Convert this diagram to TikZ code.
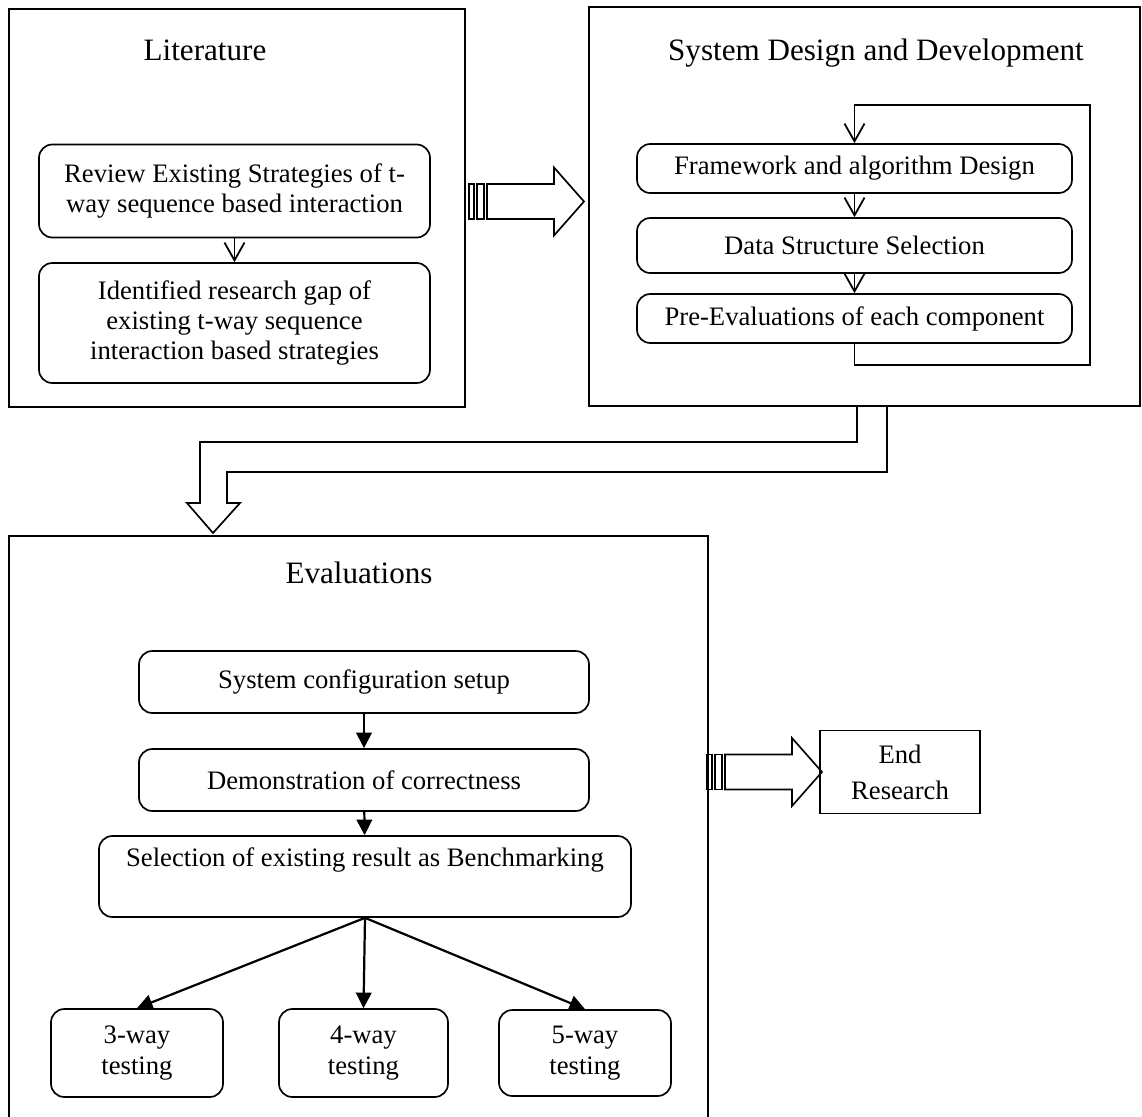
\documentclass[tikz,border=0pt]{standalone}
\usepackage{fontspec}
\setmainfont{Liberation Serif}
\usetikzlibrary{positioning, calc, arrows.meta}
\newdimen\pxu \pxu=0.45pt
\tikzset{
  boxsize/.style 2 args={minimum width=#1*\pxu, minimum height=#2*\pxu},
  panel/.style={draw, line width=0.9pt, inner sep=0pt},
  stepbox/.style={draw, line width=0.75pt, rounded corners=6pt, align=center, inner sep=0pt, font=\fontsize{12}{13.7}\selectfont},
  headline/.style={font=\fontsize{14}{16}\selectfont, anchor=base},
  openarrow/.style={-{Straight Barb[length=8pt,width=9pt]}, line width=0.8pt},
  fillarrow/.style={-{Triangle[length=7pt,width=7pt]}, line width=1pt},
  stripedarrow/.pic={
    \draw[line width=0.75pt] (0,-17.5) rectangle (5,17.5) (8,-17.5) rectangle (15,17.5);
    \draw[line width=0.75pt] (18,-17.5) -- (85,-17.5) -- (85,-34) -- (115,0) -- (85,34) -- (85,17.5) -- (18,17.5) -- cycle;
  }
}
\begin{document}
\begin{tikzpicture}[x=\pxu, y=-\pxu]
\useasboundingbox (0,0) rectangle (1142,1117);
\clip (0,0) rectangle (1142,1117);

% Literature
\node[panel, boxsize={456}{398}] (lit) at (237,208) {};
\node[headline] (littitle) at (205,60) {Literature};
\node[stepbox, boxsize={391}{93}] (review) at (234.5,191) {Review Existing Strategies of t-\\way sequence based interaction};
\node[stepbox, boxsize={391}{120}] (gap) at (234.5,323) {Identified research gap of\\existing t-way sequence\\interaction based strategies};
\draw[openarrow] (review) -- (gap);

% System design and development
\node[panel, boxsize={551}{399}] (sys) at (864.5,206.5) {};
\node[headline] (systitle) at (876,60) {System Design and Development};
\node[stepbox, boxsize={435}{49}] (frame) at (854.5,168.5) {Framework and algorithm Design};
\node[stepbox, boxsize={435}{55}] (data) at (854.5,245.5) {Data Structure Selection};
\node[stepbox, boxsize={435}{49}] (pre) at (854.5,318.5) {Pre-Evaluations of each component};
\coordinate (loopc) at (1090,105);
\draw[openarrow] (frame) -- (data);
\draw[openarrow] (data) -- (pre);
\draw[openarrow] (pre.south) -- ++(0,21) -| (loopc) -| (frame.north);

\pic at ($(lit.east)+(3,-6.5)$) {stripedarrow};

% bent arrow down
\draw[line width=0.75pt] (857,406) -- (857,442) -- (200,442) -- (200,503) -- (187,503) -- (213,533)
  -- (240,503) -- (227,503) -- (227,472) -- (887,472) -- (887,406);

% Evaluations
\node[panel, boxsize={699}{594}] (eval) at (358.5,833) {};
\node[headline] (evaltitle) at (359,583) {Evaluations};
\node[stepbox, boxsize={450}{62}] (cfg) at (364,682) {System configuration setup};
\node[stepbox, boxsize={450}{62}] (demo) at (364,780) {Demonstration of correctness};
\node[stepbox, boxsize={532}{81}] (sel) at (365,876.5) {Selection of existing result as Benchmarking\\\strut};
\node[stepbox, boxsize={172}{88}] (three) at (137,1053) {3-way\\testing};
\node[stepbox, boxsize={169}{88}] (four) at (363.5,1053) {4-way\\testing};
\node[stepbox, boxsize={172}{86}] (five) at (585,1053) {5-way\\testing};
\draw[fillarrow] (cfg) -- (demo);
\draw[fillarrow] (demo) -- (sel);
\foreach \t in {three, four, five}
  \draw[fillarrow] (sel.south) -- (\t.north);

% End
\node[draw, line width=0.75pt, boxsize={160}{83}, align=center, inner sep=0pt, font=\fontsize{12}{16.2}\selectfont] (endr) at (900,772) {End\\Research};
\pic at ($(eval.north east |- endr.west)+(-2,0)$) {stripedarrow};
\end{tikzpicture}
\end{document}
